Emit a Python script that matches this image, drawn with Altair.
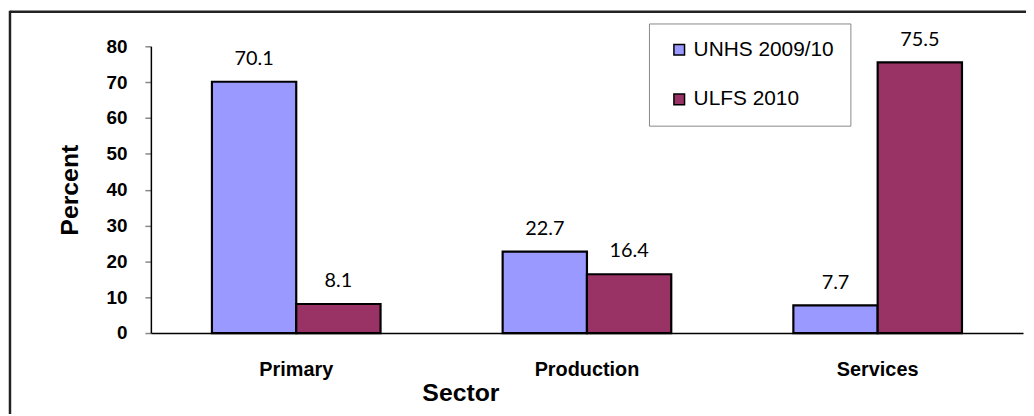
import altair as alt
import pandas as pd

sectors = ["Primary", "Production", "Services"]
series = ["UNHS 2009/10", "ULFS 2010"]
unhs = [70.1, 22.7, 7.7]
ulfs = [8.1, 16.4, 75.5]
colors = ["#9999FF", "#993366"]

rows = []
for i, s in enumerate(sectors):
    rows.append({"Sector": s, "Survey": series[0], "Percent": unhs[i], "Label": f"{unhs[i]:.1f}"})
    rows.append({"Sector": s, "Survey": series[1], "Percent": ulfs[i], "Label": f"{ulfs[i]:.1f}"})
df = pd.DataFrame(rows)

W, H = 879, 289

x = alt.X("Sector:N", sort=sectors,
          scale=alt.Scale(paddingInner=0.42, paddingOuter=0.21),
          axis=alt.Axis(title="Sector", labelAngle=0, ticks=False, tickSize=0,
                        labelFont="Liberation Sans", labelFontSize=20, labelFontWeight="bold",
                        labelColor="#000000", labelBaseline="alphabetic", labelPadding=43,
                        titleFont="Liberation Sans", titleFontSize=25, titleFontWeight="bold",
                        titleColor="#000000", titleX=312, titleY=60, titleAlign="center",
                        titleBaseline="middle",
                        domainColor="#000000", domainWidth=1.5))
y = alt.Y("Percent:Q",
          scale=alt.Scale(domain=[0, 80], nice=False),
          axis=alt.Axis(title="Percent", values=list(range(0, 81, 10)), grid=False,
                        labelOverlap=False,
                        tickSize=6, tickColor="#888888", tickWidth=1.5,
                        labelFont="Liberation Sans", labelFontSize=19, labelFontWeight="bold",
                        labelColor="#000000", labelPadding=18,
                        titleFont="Liberation Sans", titleFontSize=25, titleFontWeight="bold",
                        titleColor="#000000", titleX=-82, titleY=H / 2, titleAlign="center",
                        titleBaseline="middle", titleAngle=270,
                        domainColor="#000000", domainWidth=1.5))
xo = alt.XOffset("Survey:N", sort=series, scale=alt.Scale(paddingInner=0, paddingOuter=0))

bars = alt.Chart(df).mark_bar(stroke="#000000", strokeWidth=2.2).encode(
    x=x, xOffset=xo, y=y,
    color=alt.Color("Survey:N", sort=series,
                    scale=alt.Scale(domain=series, range=colors),
                    legend=alt.Legend(title=None, orient="none", legendX=502, legendY=-23,
                                      symbolType="square", symbolSize=115,
                                      symbolStrokeColor="#000000", symbolStrokeWidth=1.5,
                                      symbolOffset=4, labelOffset=4,
                                      labelFont="Liberation Sans", labelFontSize=21,
                                      labelColor="#000000", rowPadding=28, padding=16,
                                      strokeColor="#888888", fillColor="#FFFFFF",
                                      cornerRadius=0)),
)

labels = alt.Chart(df).mark_text(font="Lato", fontSize=20, color="#000000",
                                 baseline="alphabetic", dy=-17).encode(
    x=x, xOffset=xo, y=y, text="Label:N")

border = alt.Chart(alt.Data(values=[{}])).mark_rule(color="#222222", strokeWidth=2.5).encode(
    x=alt.value(-142), x2=alt.value(900), y=alt.value(-34.7), y2=alt.value(-34.7))
border2 = alt.Chart(alt.Data(values=[{}])).mark_rule(color="#222222", strokeWidth=2.5).encode(
    x=alt.value(-142), x2=alt.value(-142), y=alt.value(-35.9), y2=alt.value(400))

chart = alt.layer(bars, labels, border, border2).properties(
    width=W, height=H,
    autosize=alt.AutoSizeParams(type="none"),
    padding={"left": 144, "top": 37, "right": 3, "bottom": 80},
).configure_view(strokeWidth=0)

chart.save("out.html", embed_options={"renderer": "svg", "actions": False})
